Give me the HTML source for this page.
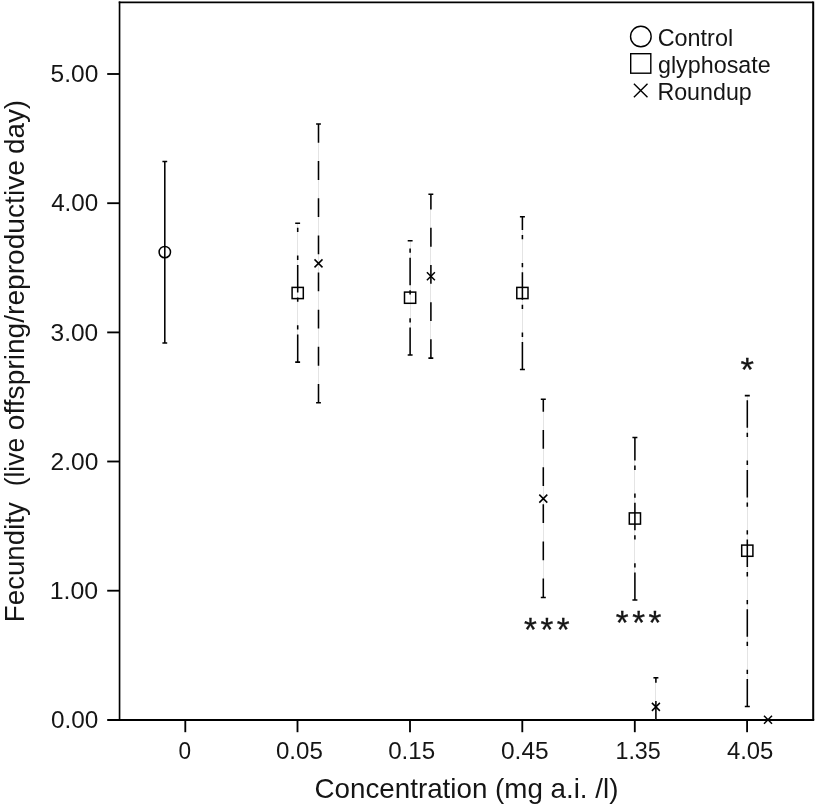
<!DOCTYPE html>
<html><head><meta charset="utf-8"><title>Fecundity vs concentration</title>
<style>
html,body{margin:0;padding:0;background:#fff;}
body{width:815px;height:805px;overflow:hidden;}
svg{display:block;}
text{font-family:"Liberation Sans","Helvetica Neue",Helvetica,Arial,sans-serif;fill:#151515;}
.ax{stroke:#000;stroke-width:1.9;fill:none;}
.tk{stroke:#000;stroke-width:1.85;fill:none;}
.eb{stroke:#000;stroke-width:1.55;fill:none;}
.gl{stroke:#e4e4e4;stroke-width:1;fill:none;}
.mk{stroke:#000;stroke-width:1.5;fill:none;}
.lg{stroke:#000;stroke-width:1.4;fill:none;}
.t22{font-size:24.2px;}
.tl{font-size:23.9px;}
.t27{font-size:27.9px;}
.st{font-size:33px;stroke:#151515;stroke-width:0.3;}
</style></head><body>
<svg width="815" height="805" viewBox="0 0 815 805">
<rect x="0" y="0" width="815" height="805" fill="#ffffff"/>

<path d="M119.55 719.9 V1.6" stroke="#000" stroke-width="1.65" fill="none"/>
<path d="M118.75 2.45 H813.2" stroke="#000" stroke-width="1.75" fill="none"/>
<path d="M813.2 1.6 V719.9" stroke="#000" stroke-width="2" fill="none"/>
<path d="M107.2 719.9 H814.2" stroke="#000" stroke-width="2" fill="none"/>
<path class="tk" d="M107.2 590.7 H119.5"/>
<path class="tk" d="M107.2 461.5 H119.5"/>
<path class="tk" d="M107.2 332.4 H119.5"/>
<path class="tk" d="M107.2 203.2 H119.5"/>
<path class="tk" d="M107.2 74.0 H119.5"/>
<text class="t22" x="50.90" y="728.1" textLength="47.34" lengthAdjust="spacingAndGlyphs">0.00</text>
<text class="t22" x="49.77" y="598.9" textLength="48.45" lengthAdjust="spacingAndGlyphs">1.00</text>
<text class="t22" x="50.51" y="469.7" textLength="47.79" lengthAdjust="spacingAndGlyphs">2.00</text>
<text class="t22" x="50.57" y="340.6" textLength="47.66" lengthAdjust="spacingAndGlyphs">3.00</text>
<text class="t22" x="51.15" y="211.4" textLength="47.14" lengthAdjust="spacingAndGlyphs">4.00</text>
<text class="t22" x="50.60" y="82.2" textLength="47.68" lengthAdjust="spacingAndGlyphs">5.00</text>
<path class="tk" d="M185.3 719.9 V732.2"/>
<text class="t22" x="178.38" y="758.8" textLength="12.59" lengthAdjust="spacingAndGlyphs">0</text>
<path class="tk" d="M297.5 719.9 V732.2"/>
<text class="t22" x="275.92" y="758.8" textLength="46.88" lengthAdjust="spacingAndGlyphs">0.05</text>
<path class="tk" d="M410.0 719.9 V732.2"/>
<text class="t22" x="388.16" y="758.8" textLength="46.97" lengthAdjust="spacingAndGlyphs">0.15</text>
<path class="tk" d="M522.3 719.9 V732.2"/>
<text class="t22" x="500.94" y="758.8" textLength="47.72" lengthAdjust="spacingAndGlyphs">0.45</text>
<path class="tk" d="M634.8 719.9 V732.2"/>
<text class="t22" x="615.42" y="758.8" textLength="45.42" lengthAdjust="spacingAndGlyphs">1.35</text>
<path class="tk" d="M747.1 719.9 V732.2"/>
<text class="t22" x="726.90" y="758.8" textLength="46.46" lengthAdjust="spacingAndGlyphs">4.05</text>
<text class="t27" x="314.57" y="797.9" textLength="303.84" lengthAdjust="spacingAndGlyphs">Concentration (mg a.i. /l)</text>
<text class="t27" transform="translate(23.7 622.13) rotate(-90)" textLength="119.93" lengthAdjust="spacingAndGlyphs">Fecundity</text>
<text class="t27" transform="translate(23.7 486.33) rotate(-90)" textLength="48.49" lengthAdjust="spacingAndGlyphs">(live</text>
<text class="t27" transform="translate(23.7 430.20) rotate(-90)" textLength="270.06" lengthAdjust="spacingAndGlyphs">offspring/reproductive</text>
<text class="t27" transform="translate(23.7 154.10) rotate(-90)" textLength="54.23" lengthAdjust="spacingAndGlyphs">day)</text>
<circle class="lg" cx="640.85" cy="36.5" r="10.3"/>
<rect class="lg" x="630.7" y="53.7" width="20.1" height="19.5"/>
<path class="lg" d="M633.9 83.7 L647.5 97.2 M647.5 83.7 L633.9 97.2" stroke-width="1.5"/>
<text class="tl" x="657.67" y="46.3" textLength="75.45" lengthAdjust="spacingAndGlyphs">Control</text>
<text class="tl" x="657.94" y="72.8" textLength="112.76" lengthAdjust="spacingAndGlyphs">glyphosate</text>
<text class="tl" x="657.41" y="99.6" textLength="94.35" lengthAdjust="spacingAndGlyphs">Roundup</text>
<path class="eb" d="M164.8 343.0 V161.5"/>
<path class="eb" d="M162.4 161.5 H167.2 M162.4 343.0 H167.2 "/>
<circle class="mk" cx="164.8" cy="252.1" r="5.7"/>
<path class="gl" d="M297.5 362.1 V223.3"/>
<path class="eb" stroke-dasharray="27.5 5 4.3 23.6 4.3 5" d="M297.7 362.1 V223.3"/>
<path class="eb" d="M295.2 223.3 H300.1 M295.2 362.1 H300.1 "/>
<rect class="mk" x="292.1" y="287.4" width="11.2" height="11.2"/>
<path class="gl" d="M410.5 355.0 V240.8"/>
<path class="eb" stroke-dasharray="27.5 5 4.3 23.6 4.3 5" d="M410.1 355.0 V240.8"/>
<path class="eb" d="M407.7 240.8 H412.6 M407.7 355.0 H412.6 "/>
<rect class="mk" x="404.5" y="292.1" width="11.2" height="11.2"/>
<path class="gl" d="M522.5 369.4 V216.8"/>
<path class="eb" stroke-dasharray="27.5 5 4.3 23.6 4.3 5" d="M522.4 369.4 V216.8"/>
<path class="eb" d="M519.9 216.8 H524.9 M519.9 369.4 H524.9 "/>
<rect class="mk" x="516.8" y="287.4" width="11.2" height="11.2"/>
<path class="gl" d="M634.5 600.0 V437.5"/>
<path class="eb" stroke-dasharray="27.5 5 4.3 23.6 4.3 5" d="M634.9 600.0 V437.5"/>
<path class="eb" d="M632.4 437.5 H637.4 M632.4 600.0 H637.4 "/>
<rect class="mk" x="629.3" y="512.9" width="11.2" height="11.2"/>
<path class="gl" d="M747.5 706.5 V395.6"/>
<path class="eb" stroke-dasharray="27.5 5 4.3 23.6 4.3 5" d="M747.3 706.5 V395.6"/>
<path class="eb" d="M744.8 395.6 H749.8 M744.8 706.5 H749.8 "/>
<rect class="mk" x="741.7" y="545.1" width="11.2" height="11.2"/>
<path class="gl" d="M318.5 402.8 V123.9"/>
<path class="eb" stroke-dasharray="18.8 18.35" d="M318.5 402.8 V123.9"/>
<path class="eb" d="M316.1 123.9 H320.9 M316.1 402.8 H320.9 "/>
<path class="mk" d="M314.5 259.4 L322.5 267.4 M322.5 259.4 L314.5 267.4"/>
<path class="gl" d="M430.5 358.1 V194.3"/>
<path class="eb" stroke-dasharray="18.8 18.35" d="M430.9 358.1 V194.3"/>
<path class="eb" d="M428.4 194.3 H433.3 M428.4 358.1 H433.3 "/>
<path class="mk" d="M426.9 272.2 L434.9 280.2 M434.9 272.2 L426.9 280.2"/>
<path class="gl" d="M543.5 597.4 V399.2"/>
<path class="eb" stroke-dasharray="18.8 18.35" d="M543.3 597.4 V399.2"/>
<path class="eb" d="M540.8 399.2 H545.8 M540.8 597.4 H545.8 "/>
<path class="mk" d="M539.3 494.6 L547.3 502.6 M547.3 494.6 L539.3 502.6"/>
<path class="gl" d="M655.5 719.9 V677.8"/>
<path class="eb" stroke-dasharray="18.8 18.35" d="M655.9 719.9 V677.8"/>
<path class="eb" d="M653.4 677.8 H658.4 "/>
<path class="mk" d="M651.9 702.9 L659.9 710.9 M659.9 702.9 L651.9 710.9"/>
<path class="mk" d="M764.0 715.8 L772.0 723.8 M772.0 715.8 L764.0 723.8"/>
<text class="st" x="524.07" y="641" textLength="45.60" lengthAdjust="spacing">***</text>
<text class="st" x="615.70" y="633.7" textLength="45.70" lengthAdjust="spacing">***</text>
<text class="st" x="740.44" y="381" textLength="13.43" lengthAdjust="spacingAndGlyphs">*</text>
</svg></body></html>
